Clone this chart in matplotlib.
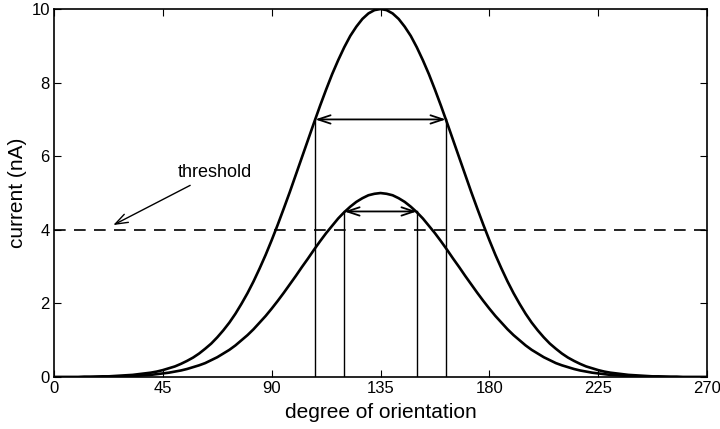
import matplotlib
matplotlib.use("Agg")
import matplotlib.pyplot as plt
import numpy as np

plt.rcParams['font.family'] = ['Liberation Sans', 'DejaVu Sans']

# Orientation grid (degrees, step 2.5) (symmetric about 135)
half_upper = [0.00, 0.00, 0.00, 0.00, 0.00, 0.01, 0.01, 0.01, 0.02, 0.02, 0.03, 0.04, 0.05, 0.06,
              0.08, 0.10, 0.12, 0.15, 0.19, 0.24, 0.29, 0.36, 0.44, 0.53, 0.64, 0.77, 0.91, 1.08,
              1.27, 1.48, 1.72, 1.99, 2.28, 2.60, 2.95, 3.32, 3.72, 4.14, 4.58, 5.03, 5.50, 5.97,
              6.44, 6.91, 7.37, 7.81, 8.23, 8.61, 8.96, 9.27, 9.52, 9.73, 9.88, 9.97, 10.00]
half_lower = [0.00, 0.00, 0.00, 0.00, 0.00, 0.00, 0.00, 0.01, 0.01, 0.01, 0.01, 0.02, 0.02, 0.03,
              0.04, 0.05, 0.06, 0.08, 0.10, 0.12, 0.15, 0.18, 0.22, 0.27, 0.32, 0.38, 0.46, 0.54,
              0.64, 0.74, 0.86, 1.00, 1.14, 1.30, 1.48, 1.66, 1.86, 2.07, 2.29, 2.52, 2.75, 2.99,
              3.22, 3.46, 3.69, 3.91, 4.11, 4.31, 4.48, 4.63, 4.76, 4.86, 4.94, 4.98, 5.00]
upper_curve = half_upper + half_upper[-2::-1]
lower_curve = half_lower + half_lower[-2::-1]
x_deg = np.linspace(0, 270, len(upper_curve))

upper_bounds = [108, 162]
upper_level = 7.0
lower_bounds = [120, 150]
lower_level = 4.5
threshold = 4.0

xticks = [0, 45, 90, 135, 180, 225, 270]
yticks = [0, 2, 4, 6, 8, 10]

fig = plt.figure(figsize=(7.2, 4.29), dpi=100)
ax = fig.add_axes([0.075, 0.121, 0.907, 0.858])

ax.plot(x_deg, upper_curve, color='black', lw=1.9)
ax.plot(x_deg, lower_curve, color='black', lw=1.9)

# threshold
ax.axhline(threshold, color='black', lw=1.2, ls=(0, (7, 5)))

# vertical lines
for xb in upper_bounds:
    ax.plot([xb, xb], [0, upper_level], color='black', lw=1.0)
for xb in lower_bounds:
    ax.plot([xb, xb], [0, lower_level], color='black', lw=1.0)

# double arrows
for xb, lvl in ((upper_bounds, upper_level), (lower_bounds, lower_level)):
    ax.annotate('', xy=(xb[0], lvl), xytext=(xb[1], lvl),
                arrowprops=dict(arrowstyle='<->,head_length=0.9,head_width=0.3', lw=1.3,
                                color='black', shrinkA=0, shrinkB=0))

# threshold label
ax.annotate('threshold', xy=(24.5, 4.13), xytext=(51, 5.55), fontsize=13,
            ha='left', va='center',
            arrowprops=dict(arrowstyle='->,head_length=0.7,head_width=0.25', lw=1.0,
                            color='black', shrinkA=2, shrinkB=0))

ax.set_xlim(0, 270)
ax.set_ylim(0, 10)
ax.set_xticks(xticks)
ax.set_yticks(yticks)
ax.tick_params(direction='in', top=True, right=True, length=5, labelsize=12, pad=3)
ax.set_xlabel('degree of orientation', fontsize=15, labelpad=5)
ax.set_ylabel('current (nA)', fontsize=15, labelpad=3)
for s in ax.spines.values():
    s.set_linewidth(1.2)

fig.savefig('out.png', dpi=100)
